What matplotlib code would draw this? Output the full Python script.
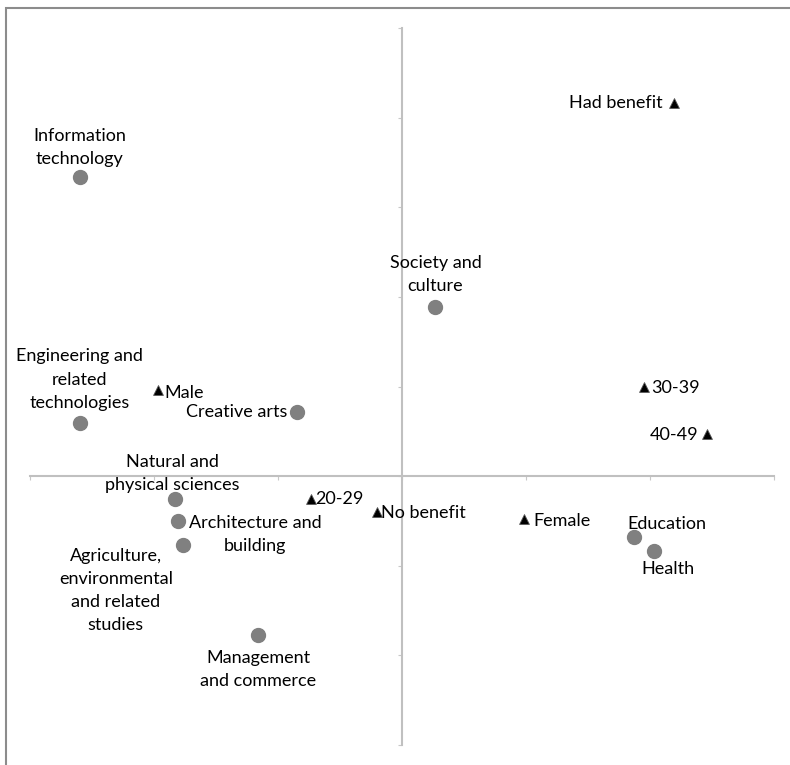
import matplotlib.pyplot as plt
from matplotlib.patches import Rectangle

plt.rcParams['font.family'] = ['Lato', 'DejaVu Sans']

# fields of study (grey circles)
fields = ['Information\ntechnology', 'Society and\nculture',
          'Engineering and\nrelated\ntechnologies', 'Creative arts',
          'Natural and\nphysical sciences', 'Architecture and\nbuilding',
          'Agriculture,\nenvironmental\nand related\nstudies',
          'Management\nand commerce', 'Education', 'Health']
field_x = [-2.60, 0.27, -2.60, -0.85, -1.83, -1.81, -1.77, -1.16, 1.87, 2.03]
field_y = [3.34, 1.89, 0.59, 0.71, -0.25, -0.50, -0.77, -1.77, -0.68, -0.84]

# respondent characteristics (black triangles)
groups = ['Had benefit', '30-39', '40-49', 'Male', '20-29', 'No benefit', 'Female']
group_x = [2.19, 1.95, 2.46, -1.97, -0.73, -0.20, 0.98]
group_y = [4.16, 1.00, 0.47, 0.96, -0.26, -0.40, -0.48]

# label offsets in points and alignment for each mark
field_pos = [((0, 7), 'center', 'bottom'), ((0, 9), 'center', 'bottom'),
             ((0, 9), 'center', 'bottom'), ((-7, 0), 'right', 'center'),
             ((-2, 4), 'center', 'bottom'), ((56, -10), 'center', 'center'),
             ((-48, -2), 'center', 'top'), ((0, -11), 'center', 'top'),
             ((24, 4), 'center', 'bottom'), ((10, -7), 'center', 'top')]
group_pos = [((-8, 0), 'right', 'center'), ((5, -1), 'left', 'center'),
             ((-6, -1), 'right', 'center'), ((5, -2), 'left', 'center'),
             ((3, 0), 'left', 'center'), ((3, -1), 'left', 'center'),
             ((7, -1), 'left', 'center')]

fig = plt.figure(figsize=(7.9, 7.65), dpi=100)
fig.patches.append(Rectangle((5.5 / 790, -0.1), 1.2, 1.1 - 8.5 / 765,
                             transform=fig.transFigure, fill=False,
                             edgecolor='#8c8c8c', linewidth=1.5))

ax = fig.add_axes([30 / 790, 20 / 765, 744 / 790, 717 / 765])
ax.set_xlim(-3, 3)
ax.set_ylim(-3, 5)

for side in ['top', 'right']:
    ax.spines[side].set_visible(False)
for side in ['left', 'bottom']:
    ax.spines[side].set_position('zero')
    ax.spines[side].set_color('#c0c0c0')
    ax.spines[side].set_linewidth(1.5)
ax.set_xticks(range(-3, 4))
ax.set_yticks(range(-3, 6))
ax.set_xticklabels([])
ax.set_yticklabels([])
ax.tick_params(direction='out', length=3, width=0.8, color='#c8c8c8')

ax.scatter(field_x, field_y, s=100, color='#808080', zorder=3)
ax.scatter(group_x, group_y, s=50, marker='^', color='black',
           edgecolors='#555555', linewidths=0.6, zorder=3)

for name, x, y, (off, ha, va) in zip(fields, field_x, field_y, field_pos):
    ax.annotate(name, (x, y), xytext=off, textcoords='offset points',
                ha=ha, va=va, multialignment='center', fontsize=13,
                linespacing=1.55)
for name, x, y, (off, ha, va) in zip(groups, group_x, group_y, group_pos):
    ax.annotate(name, (x, y), xytext=off, textcoords='offset points',
                ha=ha, va=va, fontsize=13)

fig.savefig('out.png', dpi=100)
